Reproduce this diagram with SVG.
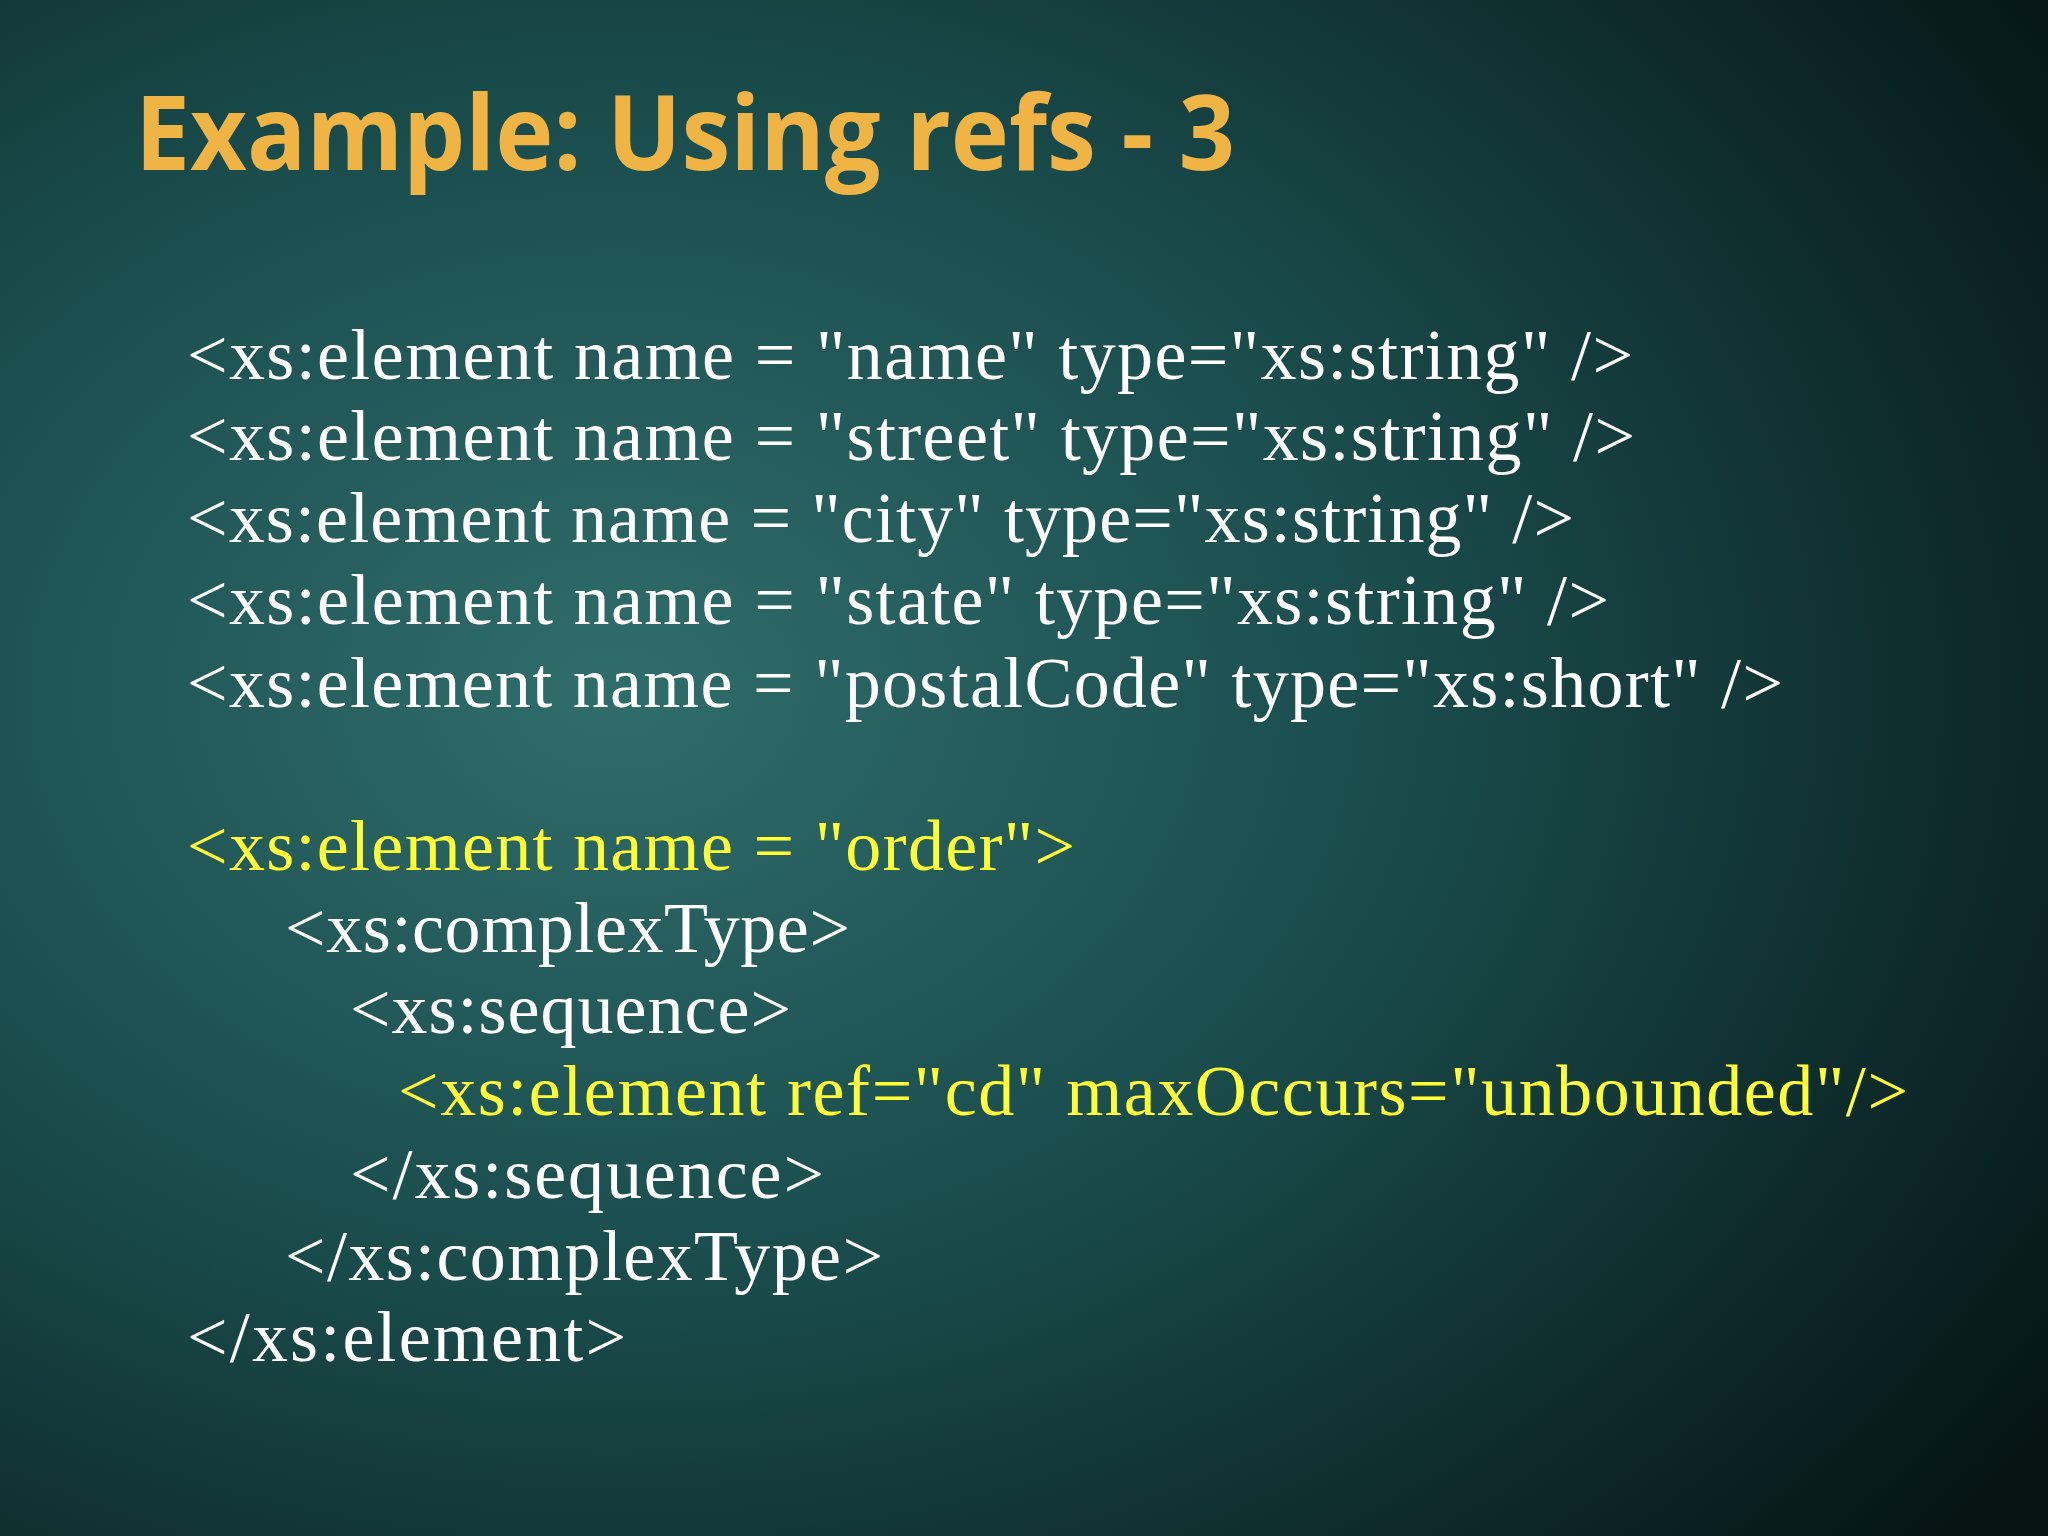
<svg xmlns="http://www.w3.org/2000/svg" width="2048" height="1536" viewBox="0 0 2048 1536">
<defs>
<radialGradient id="bg" cx="0.3" cy="0.45" r="0.85">
<stop offset="0" stop-color="#2f6d6b"/>
<stop offset="0.45" stop-color="#1a4c4c"/>
<stop offset="1" stop-color="#061414"/>
</radialGradient>
<style>
.t{font-family:"Open Sans","Liberation Sans",sans-serif;font-weight:bold;font-size:104px;fill:#f0b445}
.c{font-family:"Liberation Serif",serif;font-size:72px;fill:#ffffff}
.y{fill:#ffff33}
</style>
</defs>
<rect width="2048" height="1536" fill="url(#bg)"/>
<text class="t" x="135" y="170" textLength="1100" lengthAdjust="spacingAndGlyphs">Example: Using refs - 3</text>
<g class="c">
<text x="187" y="379" textLength="1446">&lt;xs:element name = "name" type="xs:string" /&gt;</text>
<text x="187" y="460" textLength="1448">&lt;xs:element name = "street" type="xs:string" /&gt;</text>
<text x="187" y="542" textLength="1387">&lt;xs:element name = "city" type="xs:string" /&gt;</text>
<text x="187" y="624" textLength="1422">&lt;xs:element name = "state" type="xs:string" /&gt;</text>
<text x="187" y="707" textLength="1596">&lt;xs:element name = "postalCode" type="xs:short" /&gt;</text>
<text class="y" x="187" y="870" textLength="888">&lt;xs:element name = "order"&gt;</text>
<text x="285" y="952" textLength="565">&lt;xs:complexType&gt;</text>
<text x="350" y="1033" textLength="441">&lt;xs:sequence&gt;</text>
<text class="y" x="398" y="1115" textLength="1510">&lt;xs:element ref="cd" maxOccurs="unbounded"/&gt;</text>
<text x="350" y="1198" textLength="474">&lt;/xs:sequence&gt;</text>
<text x="285" y="1280" textLength="598">&lt;/xs:complexType&gt;</text>
<text x="187" y="1361" textLength="439">&lt;/xs:element&gt;</text>
</g>
</svg>
